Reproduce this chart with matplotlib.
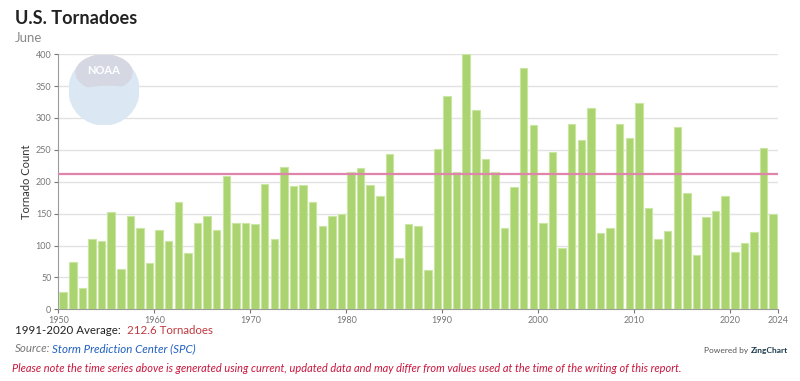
import matplotlib
matplotlib.use("Agg")
import matplotlib.pyplot as plt
from matplotlib.patches import Circle, Ellipse
import numpy as np

# datos (junio)
anios = list(range(1950, 2025))
tornados = [27, 75, 33, 110, 107, 152, 63, 146, 127, 73,
            124, 107, 169, 89, 136, 146, 125, 209, 135, 136,
            133, 197, 111, 223, 193, 195, 168, 131, 147, 150,
            216, 222, 195, 177, 243, 81, 133, 131, 62, 251,
            334, 215, 400, 313, 235, 215, 127, 192, 379, 289,
            135, 247, 96, 291, 266, 315, 119, 127, 291, 269,
            324, 159, 110, 123, 286, 183, 85, 145, 154, 177,
            90, 104, 122, 253, 150]
promedio = 212.6
ticks_x = [1950, 1960, 1970, 1980, 1990, 2000, 2010, 2020, 2025]
etiquetas_x = ["1950", "1960", "1970", "1980", "1990", "2000", "2010", "2020", "2024"]
ticks_y = list(range(0, 401, 50))

plt.rcParams['font.family'] = ['Lato', 'DejaVu Sans']

fig = plt.figure(figsize=(8, 3.81), dpi=100)
ax = fig.add_axes([0.073, 0.188, 0.8995, 0.67])


def py(y):
    # pixel desde arriba -> coordenada de figura
    return 1 - y / 381


def ajustar(t, ancho):
    # ajusta el tamaño de letra para que el texto mida 'ancho' pixeles
    fig.canvas.draw()
    w = t.get_window_extent().width
    t.set_fontsize(t.get_fontsize() * ancho / w)
    fig.canvas.draw()
    return t.get_window_extent()


# logo NOAA aproximado (marca de agua)
logo = fig.add_axes([104 / 800 - 0.04375, py(90) - 0.092, 0.0875, 0.184])
logo.set_xlim(-1, 1)
logo.set_ylim(-1, 1)
logo.set_aspect('equal')
logo.axis('off')
logo.add_patch(Circle((0, 0), 1, color='#dbe8f4', zorder=1))
logo.add_patch(Ellipse((0, 0.5), 1.6, 1.0, color='#d5d8e3', zorder=2))
logo.add_patch(Ellipse((0.1, -0.05), 1.5, 0.3, color='#dbe8f4', zorder=3))
logo.text(0, 0.55, "NOAA", color='white', fontsize=8, fontweight='bold',
          ha='center', va='center', zorder=4)

x = np.array(anios) + 0.5
ax.bar(x, tornados, width=0.78, color='#aad46f', edgecolor='#c9e6a2',
       linewidth=0.8, zorder=3)
ax.axhline(promedio, color='#df85ab', lw=1.6, zorder=4)

ax.set_xlim(1950, 2025)
ax.set_ylim(0, 400)
ax.set_xticks(ticks_x)
ax.set_xticklabels(etiquetas_x)
ax.set_yticks(ticks_y)
ax.grid(axis='y', color='#e2e2e2', lw=1, zorder=0)
ax.set_axisbelow(True)
ax.tick_params(axis='both', labelsize=6.5, colors='#777777', length=3, width=0.8)
ax.tick_params(axis='y', pad=2)
ax.tick_params(axis='x', pad=2)
for s in ['top', 'right']:
    ax.spines[s].set_visible(False)
ax.spines['left'].set_color('#9a9a9a')
ax.spines['bottom'].set_color('#9a9a9a')
ax.set_ylabel("Tornado Count", fontsize=8, color='#333333', labelpad=3)

# titulo
t = fig.text(15 / 800, py(18), "U.S. Tornadoes", fontsize=13, fontweight='bold',
             color='#222222', va='center')
ajustar(t, 122)
fig.text(15 / 800, py(38), "June", fontsize=9.5, color='#888888', va='center')

# textos de abajo
t = fig.text(15 / 800, py(331), "1991-2020 Average:  ", fontsize=9,
             color='#222222', va='center')
bb = ajustar(t, 112)
fs = t.get_fontsize()
fig.text(bb.x1 / 800, py(331), "212.6 Tornadoes", fontsize=fs,
         color='#c0393f', va='center')
fig.text(15 / 800, py(349), "Source:", fontsize=fs, style='italic',
         color='#777777', va='center')
fig.text(52 / 800, py(349), "Storm Prediction Center (SPC)",
         fontsize=fs, style='italic', color='#1f5fbf', va='center')
fig.text(704 / 800, py(351), "Powered by", fontsize=6, color='#555555',
         va='center')
fig.text(751 / 800, py(351), "ZingChart", fontsize=6, color='#1b3a4b',
         fontweight='bold', va='center')
nota = fig.text(12 / 800, py(369),
                "Please note the time series above is generated using current, updated data "
                "and may differ from values used at the time of the writing of this report.",
                fontsize=9, style='italic', color='#c8163c', va='center')
ajustar(nota, 670)

fig.savefig("out.png", dpi=100)
